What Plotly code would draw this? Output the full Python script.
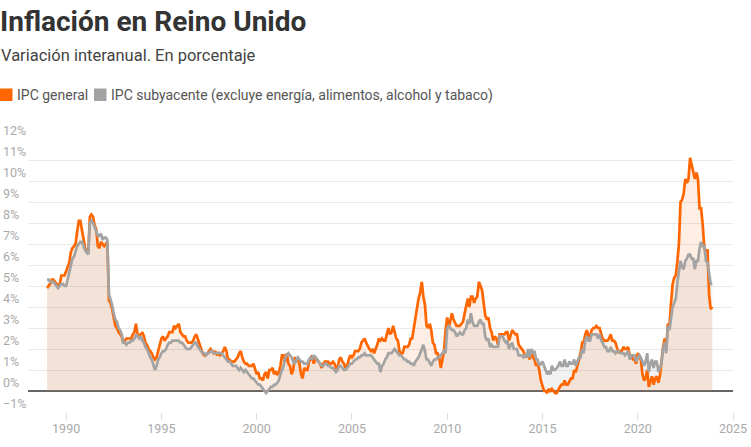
import pandas as pd
import plotly.graph_objects as go

# Serie mensual, enero 1989 - diciembre 2023
fechas = pd.date_range("1989-01-01", periods=420, freq="MS")

ipc_general = [
    4.9, 5.0, 5.1, 5.3, 5.3, 5.2, 5.1, 5.0, 5.1, 5.5, 5.5, 5.5,   # 1989
    5.7, 5.9, 6.1, 6.6, 6.8, 6.9, 7.0, 7.6, 8.1, 8.1, 7.7, 7.3,   # 1990
    6.8, 6.7, 6.6, 8.3, 8.4, 8.3, 7.9, 7.7, 6.9, 6.8, 7.1, 7.0,   # 1991
    6.9, 7.0, 7.1, 4.3, 4.2, 3.9, 3.4, 3.1, 3.0, 2.8, 2.7, 2.6,   # 1992
    2.3, 2.4, 2.5, 2.5, 2.5, 2.5, 2.7, 2.8, 3.2, 2.7, 2.6, 2.7,   # 1993
    2.8, 2.6, 2.3, 2.2, 2.0, 1.9, 1.8, 1.6, 1.5, 1.6, 1.9, 2.1,   # 1994
    2.5, 2.6, 2.4, 2.5, 2.6, 2.8, 2.8, 2.8, 3.1, 3.0, 3.1, 3.2,   # 1995
    2.8, 2.7, 2.6, 2.6, 2.4, 2.3, 2.3, 2.3, 2.4, 2.6, 2.7, 2.5,   # 1996
    2.2, 2.0, 1.8, 1.7, 1.7, 1.8, 1.9, 2.0, 1.9, 1.8, 1.9, 1.7,   # 1997
    1.8, 1.7, 1.8, 1.9, 2.1, 1.9, 1.5, 1.5, 1.4, 1.4, 1.4, 1.5,   # 1998
    1.6, 1.8, 1.9, 1.6, 1.4, 1.3, 1.3, 1.2, 1.2, 1.2, 1.3, 1.1,   # 1999
    0.8, 0.9, 0.6, 0.6, 0.5, 0.8, 0.9, 0.6, 1.0, 1.0, 1.1, 0.8,   # 2000
    0.9, 0.8, 0.9, 1.2, 1.7, 1.7, 1.4, 1.8, 1.3, 1.2, 0.8, 1.0,   # 2001
    1.6, 1.5, 1.5, 1.3, 0.8, 0.6, 1.1, 1.0, 1.0, 1.4, 1.5, 1.7,   # 2002
    1.3, 1.6, 1.5, 1.4, 1.3, 1.1, 1.3, 1.4, 1.4, 1.4, 1.3, 1.3,   # 2003
    1.4, 1.3, 1.1, 1.1, 1.5, 1.6, 1.4, 1.3, 1.1, 1.2, 1.5, 1.7,   # 2004
    1.6, 1.7, 1.9, 1.9, 1.9, 2.0, 2.3, 2.4, 2.5, 2.3, 2.1, 2.0,   # 2005
    1.9, 2.0, 1.8, 2.0, 2.2, 2.5, 2.4, 2.5, 2.4, 2.4, 2.7, 3.0,   # 2006
    2.7, 2.8, 3.1, 2.8, 2.5, 2.4, 1.9, 1.8, 1.8, 2.1, 2.1, 2.1,   # 2007
    2.2, 2.5, 2.5, 3.0, 3.3, 3.8, 4.4, 4.7, 5.2, 4.5, 4.1, 3.1,   # 2008
    3.0, 3.2, 2.9, 2.3, 2.2, 1.8, 1.8, 1.6, 1.1, 1.5, 1.9, 2.9,   # 2009
    3.5, 3.0, 3.4, 3.7, 3.4, 3.2, 3.1, 3.1, 3.1, 3.2, 3.3, 3.7,   # 2010
    4.0, 4.4, 4.0, 4.5, 4.5, 4.2, 4.4, 4.5, 5.2, 5.0, 4.8, 4.2,   # 2011
    3.6, 3.4, 3.5, 3.0, 2.8, 2.4, 2.6, 2.5, 2.2, 2.7, 2.7, 2.7,   # 2012
    2.7, 2.8, 2.8, 2.4, 2.7, 2.9, 2.8, 2.7, 2.7, 2.2, 2.1, 2.0,   # 2013
    1.9, 1.7, 1.6, 1.8, 1.5, 1.9, 1.6, 1.5, 1.2, 1.3, 1.0, 0.5,   # 2014
    0.3, 0.0, 0.0, -0.1, 0.1, 0.0, 0.1, 0.0, -0.1, -0.1, 0.1, 0.2,  # 2015
    0.3, 0.3, 0.5, 0.3, 0.3, 0.5, 0.6, 0.6, 1.0, 0.9, 1.2, 1.6,   # 2016
    1.8, 2.3, 2.3, 2.7, 2.9, 2.6, 2.6, 2.9, 3.0, 3.0, 3.1, 3.0,   # 2017
    3.0, 2.7, 2.5, 2.4, 2.4, 2.4, 2.5, 2.7, 2.4, 2.4, 2.3, 2.1,   # 2018
    1.8, 1.9, 1.9, 2.1, 2.0, 2.0, 2.1, 1.7, 1.7, 1.5, 1.5, 1.3,   # 2019
    1.8, 1.7, 1.5, 0.8, 0.5, 0.6, 1.0, 0.2, 0.5, 0.7, 0.3, 0.6,   # 2020
    0.7, 0.4, 0.7, 1.5, 2.1, 2.5, 2.0, 3.2, 3.1, 4.2, 5.1, 5.4,   # 2021
    5.5, 6.2, 7.0, 9.0, 9.1, 9.4, 10.1, 9.9, 10.1, 11.1, 10.7, 10.5,  # 2022
    10.1, 10.4, 10.1, 8.7, 8.7, 7.9, 6.8, 6.7, 6.7, 4.6, 3.9, 4.0,  # 2023
]

ipc_subyacente = [
    5.3, 5.3, 5.2, 5.2, 5.2, 5.1, 5.0, 4.9, 5.0, 5.1, 5.1, 5.0,   # 1989
    5.0, 5.3, 5.7, 6.0, 6.3, 6.4, 6.6, 6.9, 7.0, 7.1, 7.1, 6.9,   # 1990
    6.7, 6.6, 6.5, 8.0, 8.1, 8.0, 7.8, 7.6, 7.4, 7.4, 7.5, 7.2,   # 1991
    7.3, 7.3, 7.2, 4.6, 4.4, 4.1, 3.7, 3.4, 3.3, 3.0, 2.9, 2.7,   # 1992
    2.3, 2.3, 2.2, 2.3, 2.3, 2.4, 2.4, 2.5, 2.7, 2.6, 2.5, 2.6,   # 1993
    2.4, 2.3, 2.1, 2.0, 1.8, 1.6, 1.5, 1.3, 1.0, 1.2, 1.5, 1.6,   # 1994
    1.8, 1.9, 1.9, 2.0, 2.2, 2.3, 2.3, 2.4, 2.4, 2.4, 2.4, 2.4,   # 1995
    2.3, 2.3, 2.2, 2.1, 2.0, 2.0, 2.0, 2.1, 2.2, 2.3, 2.3, 2.1,   # 1996
    2.0, 1.9, 1.8, 1.8, 1.7, 1.8, 1.8, 1.9, 1.9, 1.8, 1.8, 1.8,   # 1997
    1.8, 1.8, 1.8, 1.7, 1.6, 1.5, 1.4, 1.4, 1.3, 1.2, 1.2, 1.2,   # 1998
    1.1, 1.0, 1.1, 1.0, 0.9, 1.0, 0.9, 0.8, 0.7, 0.6, 0.6, 0.5,   # 1999
    0.4, 0.3, 0.3, 0.2, 0.1, 0.0, -0.1, 0.0, 0.1, 0.2, 0.2, 0.3,  # 2000
    0.3, 0.4, 0.5, 0.8, 1.0, 1.2, 1.6, 1.7, 1.8, 1.7, 1.6, 1.4,   # 2001
    1.3, 1.5, 1.6, 1.5, 1.4, 1.4, 1.3, 1.3, 1.3, 1.5, 1.6, 1.5,   # 2002
    1.7, 1.6, 1.5, 1.4, 1.3, 1.2, 1.2, 1.3, 1.3, 1.2, 1.2, 1.1,   # 2003
    1.1, 1.0, 0.9, 1.0, 1.2, 1.2, 1.1, 1.0, 1.0, 1.1, 1.2, 1.3,   # 2004
    1.3, 1.4, 1.5, 1.5, 1.6, 1.6, 1.7, 1.7, 1.8, 1.7, 1.7, 1.7,   # 2005
    1.7, 1.6, 1.5, 1.4, 1.3, 1.3, 0.9, 1.2, 1.3, 1.5, 1.6, 1.8,   # 2006
    1.8, 1.8, 1.9, 2.0, 1.9, 1.8, 1.7, 1.7, 1.6, 1.5, 1.5, 1.4,   # 2007
    1.4, 1.3, 1.3, 1.2, 1.4, 1.5, 1.6, 1.8, 2.0, 2.2, 1.9, 1.5,   # 2008
    1.5, 1.3, 1.2, 1.4, 1.5, 1.5, 1.6, 1.6, 1.7, 1.8, 1.9, 1.8,   # 2009
    3.0, 3.1, 3.0, 2.9, 2.9, 2.8, 2.6, 2.7, 2.8, 2.7, 2.7, 2.9,   # 2010
    3.0, 3.4, 3.2, 3.7, 3.3, 3.1, 3.1, 3.1, 3.3, 3.4, 3.2, 3.2,   # 2011
    2.6, 2.4, 2.5, 2.1, 2.2, 2.1, 2.1, 2.1, 2.1, 2.6, 2.6, 2.6,   # 2012
    2.4, 2.3, 2.4, 2.0, 2.2, 2.3, 2.0, 2.0, 2.0, 1.7, 1.7, 1.7,   # 2013
    1.6, 1.7, 1.6, 2.0, 1.6, 2.0, 1.8, 1.9, 1.5, 1.5, 1.2, 1.3,   # 2014
    1.4, 1.2, 1.0, 0.8, 0.9, 0.8, 1.2, 1.0, 1.0, 1.1, 1.2, 1.4,   # 2015
    1.2, 1.2, 1.5, 1.2, 1.2, 1.4, 1.3, 1.3, 1.5, 1.2, 1.4, 1.6,   # 2016
    1.6, 2.0, 1.8, 2.4, 2.6, 2.4, 2.4, 2.7, 2.7, 2.7, 2.7, 2.5,   # 2017
    2.7, 2.4, 2.3, 2.1, 2.1, 1.9, 1.9, 2.1, 1.9, 1.9, 1.8, 1.9,   # 2018
    1.9, 1.8, 1.8, 1.8, 1.7, 1.8, 1.9, 1.5, 1.7, 1.7, 1.7, 1.4,   # 2019
    1.6, 1.7, 1.6, 1.4, 1.2, 1.4, 1.8, 0.9, 1.3, 1.5, 1.1, 1.4,   # 2020
    1.4, 0.9, 1.1, 1.3, 2.0, 2.3, 1.8, 3.1, 2.9, 3.4, 4.0, 4.2,   # 2021
    4.4, 5.2, 5.7, 6.2, 5.9, 5.8, 6.2, 6.3, 6.5, 6.5, 6.3, 6.3,   # 2022
    5.8, 6.2, 6.2, 6.8, 7.1, 6.9, 6.9, 6.2, 6.1, 5.7, 5.1, 5.1,   # 2023
]

anios_ticks = ["1990", "1995", "2000", "2005", "2010", "2015", "2020", "2025"]

NARANJA = "#ff6600"
GRIS = "#a3a3a3"
FUENTE = "Roboto"

# margenes en pixeles -> area de grafico
W, H = 751, 447
ML, MR, MT, MB = 28, 18, 139, 35
PW, PH = W - ML - MR, H - MT - MB


def px(x):
    return (x - ML) / PW


def py(y):
    return (H - MB - y) / PH


fig = go.Figure()
fig.add_trace(go.Scatter(x=fechas, y=ipc_subyacente, fill="tozeroy",
                         fillcolor="rgba(150,150,150,0.12)",
                         line=dict(width=0, color="rgba(0,0,0,0)"),
                         hoverinfo="skip", showlegend=False))
fig.add_trace(go.Scatter(x=fechas, y=ipc_general, fill="tozeroy",
                         fillcolor="rgba(255,102,0,0.11)",
                         line=dict(color=NARANJA, width=2.7),
                         name="IPC general", showlegend=False))
fig.add_trace(go.Scatter(x=fechas, y=ipc_subyacente,
                         line=dict(color=GRIS, width=2.7),
                         name="IPC subyacente", showlegend=False))

fig.update_layout(
    width=W, height=H,
    margin=dict(l=ML, r=MR, t=MT, b=MB, autoexpand=False),
    paper_bgcolor="white", plot_bgcolor="white",
    font=dict(family=FUENTE, color="#333333"),
    showlegend=False,
)

fig.update_xaxes(
    type="date", range=["1988-01-01", "2025-01-01"], automargin=False,
    tickvals=[a + "-01-01" for a in anios_ticks], ticktext=anios_ticks,
    ticks="outside", ticklen=7, tickcolor="#dddddd",
    showgrid=False, showline=False, zeroline=False,
    ticklabelstandoff=-2,
    tickfont=dict(size=12.5, color="#aaaaaa", family=FUENTE),
)
fig.update_yaxes(
    range=[-1, 12], dtick=1, ticksuffix="%", automargin=False,
    showgrid=True, gridcolor="#e8e8e8", gridwidth=1,
    zeroline=True, zerolinecolor="#666666", zerolinewidth=1.5,
    showline=False, ticks="",
    ticklabelposition="inside top", ticklabelstandoff=-ML,
    ticklabeloverflow="allow",
    tickfont=dict(size=12.5, color="#aaaaaa", family=FUENTE),
)

# titulo, subtitulo y leyenda
fig.add_annotation(text="<b>Inflación en Reino Unido</b>", xref="paper", yref="paper",
                   x=px(-2), y=py(21), xanchor="left", yanchor="middle", showarrow=False,
                   font=dict(size=28, color="#333333", family=FUENTE))
fig.add_annotation(text="Variación interanual. En porcentaje", xref="paper", yref="paper",
                   x=px(-1), y=py(56), xanchor="left", yanchor="middle", showarrow=False,
                   font=dict(size=16.5, color="#444444", family=FUENTE))

leyenda = [("IPC general", NARANJA, 0), ("IPC subyacente (excluye energía, alimentos, alcohol y tabaco)", GRIS, 94)]
for texto, color, x0 in leyenda:
    fig.add_shape(type="rect", xref="paper", yref="paper",
                  x0=px(x0), x1=px(x0 + 12.5), y0=py(101), y1=py(88.5),
                  fillcolor=color, line=dict(width=0))
    fig.add_annotation(text=texto, xref="paper", yref="paper",
                       x=px(x0 + 15), y=py(95.5), xanchor="left", yanchor="middle",
                       showarrow=False, font=dict(size=14, color="#555555", family=FUENTE))

# sin margen del body para que la figura quede pegada a la esquina
fig.write_html("out.html", config={"displayModeBar": False},
               post_script="document.body.style.margin='0';")
